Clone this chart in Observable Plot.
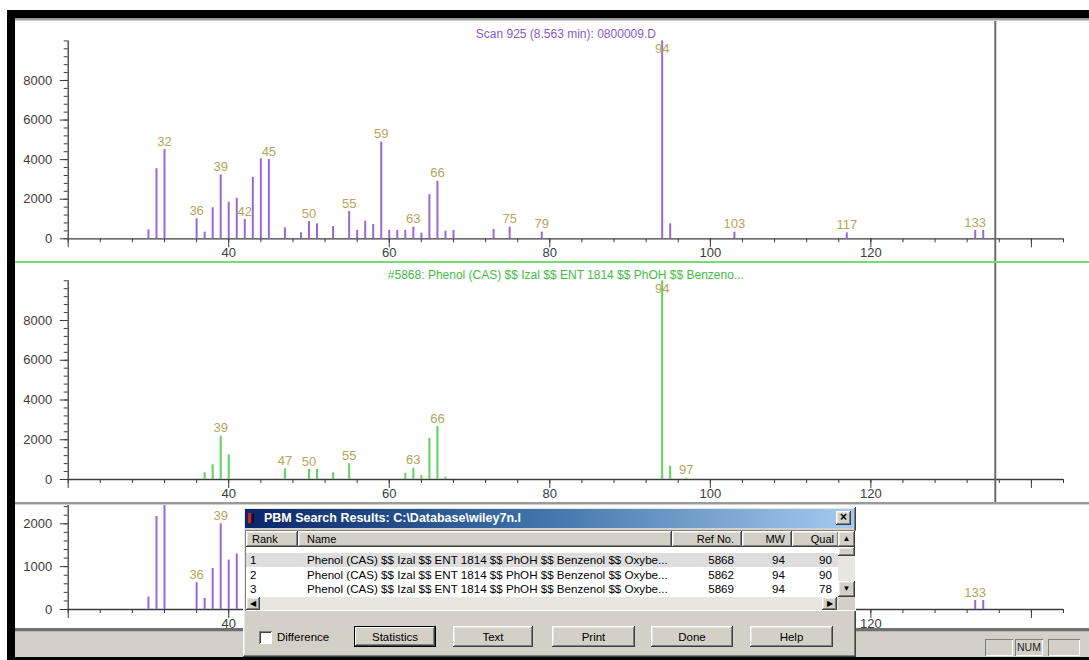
<!DOCTYPE html>
<html><head><meta charset="utf-8">
<script src="https://cdn.jsdelivr.net/npm/d3@7"></script>
<script src="https://cdn.jsdelivr.net/npm/@observablehq/plot@0.6"></script>
<style>
html,body{margin:0;padding:0;}
body{width:1089px;height:660px;overflow:hidden;background:#fff;position:relative;font-family:"Liberation Sans",Arial,sans-serif;}
.abs{position:absolute;box-sizing:border-box;}
.panel{position:absolute;left:15px;width:1074px;overflow:hidden;background:#fff;}
.raised{background:#d4d0c8;box-shadow:inset -1px -1px #404040, inset 1px 1px #fff, inset -2px -2px #808080, inset 2px 2px #e8e6e0;}
.sunken{box-shadow:inset 1px 1px #808080, inset -1px -1px #fff, inset 2px 2px #404040, inset -2px -2px #d4d0c8;}
.btn{position:absolute;top:626px;height:21px;font-size:11.5px;color:#000;display:flex;align-items:center;justify-content:center;}
.hdr{position:absolute;top:0;height:16px;font-size:11px;line-height:16px;color:#000;box-sizing:border-box;}
.row{position:absolute;left:0;width:592px;height:14px;font-size:11.6px;line-height:14px;color:#000;white-space:nowrap;}
.row span{position:absolute;}
.thin{position:absolute;font-size:8px;line-height:1;color:#000;display:flex;align-items:center;justify-content:center;}
</style></head><body>
<div id="p1" class="panel" style="top:21px;height:241px;"></div>
<div class="abs" style="left:15px;top:261px;width:1074px;height:2px;background:#6fe06f;"></div>
<div id="p2" class="panel" style="top:263px;height:240px;"></div>
<div class="abs" style="left:15px;top:502px;width:1074px;height:3px;background:#9a9a9a;border-bottom:1px solid #d0d0d0;"></div>
<div id="p3" class="panel" style="top:505px;height:123px;"></div>
<div class="abs" style="left:15px;top:628px;width:1074px;height:4px;background:#707070;border-bottom:1px solid #b8b8b8;"></div>
<div class="abs" style="left:15px;top:632px;width:1074px;height:25px;background:#d4d0c8;"></div>
<div class="abs sunken" style="left:985px;top:639px;width:28px;height:17px;box-shadow:inset 1px 1px #808080, inset -1px -1px #fff;"></div>
<div class="abs" style="left:1015px;top:639px;width:28px;height:17px;box-shadow:inset 1px 1px #808080, inset -1px -1px #fff;font-size:10.5px;line-height:17px;text-align:center;color:#222;">NUM</div>
<div class="abs" style="left:1048px;top:639px;width:32px;height:17px;box-shadow:inset 1px 1px #808080, inset -1px -1px #fff;"></div>

<!-- dialog -->
<div id="dlg" class="abs raised" style="left:243px;top:507px;width:613px;height:150px;"></div>
<div class="abs" style="left:245px;top:509px;width:609px;height:19px;background:linear-gradient(to right,#0a246a,#3a6ea5 45%,#a6caf0);"></div>
<div class="abs" style="left:248px;top:513px;width:3px;height:10px;background:#d02020;"></div>
<div class="abs" style="left:252px;top:514px;width:2px;height:9px;background:#111;"></div>
<div id="dlgTitle" class="abs" style="left:264px;top:509px;height:19px;line-height:19px;color:#fff;font-weight:bold;font-size:12.5px;white-space:nowrap;"></div>
<div class="abs raised" style="left:836px;top:511px;width:15px;height:14px;font-size:12px;font-weight:bold;line-height:13px;text-align:center;color:#000;">×</div>
<div id="list" class="abs" style="left:245px;top:530px;width:611px;height:81px;background:#fff;box-shadow:inset 1px 1px #808080, inset -1px -1px #fff;overflow:hidden;">
  <div id="hdr" class="abs" style="left:1px;top:1px;width:592px;height:16px;"></div>
  <div id="rows" class="abs" style="left:1px;top:23px;width:592px;height:44px;overflow:hidden;"></div>
  <div class="abs" style="left:593px;top:1px;width:17px;height:66px;background:#e8e6e0;"></div>
  <div class="thin raised" style="left:593px;top:1px;width:17px;height:16px;">▲</div>
  <div class="abs raised" style="left:593px;top:17px;width:17px;height:9px;"></div>
  <div class="thin raised" style="left:593px;top:51px;width:17px;height:16px;">▼</div>
  <div class="abs" style="left:1px;top:67px;width:592px;height:13px;background:#e8e6e0;"></div>
  <div class="thin raised" style="left:1px;top:67px;width:14px;height:13px;">◀</div>
  <div class="thin raised" style="left:577px;top:67px;width:15px;height:13px;">▶</div>
  <div class="abs" style="left:593px;top:67px;width:17px;height:13px;background:#d4d0c8;"></div>
</div>
<div class="abs" style="left:259px;top:631px;width:13px;height:13px;background:#fff;box-shadow:inset 1px 1px #808080, inset -1px -1px #fff, inset 2px 2px #404040;"></div>
<div id="diffLabel" class="abs" style="left:277px;top:629px;height:16px;line-height:16px;font-size:11.5px;color:#000;"></div>
<div id="btns"></div>

<script>
// ---------- data ----------
const scanTitle = "Scan 925 (8.563 min): 0800009.D";
const scanMz    = [30,31,32,36,37,38,39,40,41,42,43,44,45,47,49,50,51,53,55,56,57,58,59,60,61,62,63,64,65,66,67,68,73,75,79,94,95,103,117,133,134];
const scanAbund = [455,3540,4510,1010,333,1570,3230,1850,2050,975,3110,4040,4010,556,303,874,758,621,1380,420,890,722,4880,420,420,420,590,285,2225,2910,385,420,470,590,333,9999,758,333,300,420,420];
const scanLabels = [32,36,39,42,45,50,55,59,63,66,75,79,94,103,117,133];

const libTitle = "#5868: Phenol (CAS) $$ Izal $$ ENT 1814 $$ PhOH $$ Benzeno...";
const libMz    = [37,38,39,40,47,50,51,53,55,62,63,64,65,66,67,94,95,97];
const libAbund = [337,740,2180,1243,538,503,503,337,790,317,569,201,2078,2667,116,9999,669,60];
const libLabels = [39,47,50,55,63,66,94,97];

const zoomMz    = [30,31,32,36,37,38,39,40,41,133,134];
const zoomAbund = [290,2170,2800,626,259,955,2000,1153,1294,210,210];
const zoomLabels = [32,36,39,133];

const cursorMz = 135.5;
const xMinorTicks = d3.range(20, 145, 4);
const xMajorTicks = [20,40,60,80,100,120,140];
const xTickLabels = [40,60,80,100,120];
const yMinorMain = d3.range(0, 10001, 400);
const yMajorMain = [0,2000,4000,6000,8000];
const yMinorZoom = d3.range(0, 2401, 200);
const yMajorZoom = [0,1000,2000];

const dialogTitle = "PBM Search Results: C:\\Database\\wiley7n.l";
const colHeads = ["Rank","Name","Ref No.","MW","Qual"];
const ranks  = ["1","2","3"];
const names  = ["Phenol (CAS) $$ Izal $$ ENT 1814 $$ PhOH $$ Benzenol $$ Oxybe...","Phenol (CAS) $$ Izal $$ ENT 1814 $$ PhOH $$ Benzenol $$ Oxybe...","Phenol (CAS) $$ Izal $$ ENT 1814 $$ PhOH $$ Benzenol $$ Oxybe..."];
const refNos = ["5868","5862","5869"];
const mws    = ["94","94","94"];
const quals  = ["90","90","78"];
const buttons = ["Statistics","Text","Print","Done","Help"];
const checkLabel = "Difference";

// ---------- chart ----------
const purple = "#9a68d6", green = "#5fd35f", labelColor = "#b5a55a", axisColor = "#3c3c3c";

function spectrum(o) {
  const rows = o.mz.map((m, i) => ({mz: m, v: o.ab[i]}));
  const labs = o.labels.map(m => ({mz: m, v: Math.min(rows.find(r => r.mz === m).v, 9200), t: String(m)}));
  const marks = [
    Plot.ruleY([0], {stroke: axisColor, strokeWidth: 1.3}),
    Plot.ruleX([20], {stroke: axisColor, strokeWidth: 1.3}),
    Plot.axisX({ticks: xMinorTicks, tickSize: 4, tickFormat: () => "", color: axisColor, label: null}),
    Plot.axisX({ticks: xMajorTicks, tickSize: 9, tickPadding: 0, tickFormat: d => xTickLabels.includes(d) ? String(d) : "", color: axisColor, label: null}),
    Plot.axisY({ticks: o.yMinor, tickSize: 4, tickFormat: () => "", color: axisColor, label: null}),
    Plot.axisY({ticks: o.yMajor, tickSize: 8, tickPadding: 8, tickFormat: d => String(d), color: axisColor, label: null}),
  ];
  if (o.cursor) marks.push(Plot.ruleX([cursorMz], {stroke: "#6a6a6a", strokeWidth: 2, insetTop: -o.mT, insetBottom: -o.mB}));
  marks.push(Plot.ruleX(rows, {x: "mz", y1: 0, y2: "v", stroke: o.color, strokeWidth: 2}));
  marks.push(Plot.text(labs, {x: "mz", y: "v", text: "t", dy: -8, fill: labelColor, fontSize: 13}));
  if (o.title) marks.push(Plot.text([o.title], {frameAnchor: "top", lineAnchor: "middle", text: d => d, dy: o.titleDy, fill: o.titleColor, fontSize: 12}));
  return Plot.plot({
    width: 1074, height: o.h,
    marginLeft: 52.7, marginRight: 26, marginTop: o.mT, marginBottom: o.mB,
    x: {domain: [20, 144], axis: null, label: null},
    y: {domain: o.yDomain, axis: null, label: null},
    style: {fontFamily: "Liberation Sans, Arial, sans-serif", fontSize: "13px", background: "#fff"},
    marks
  });
}

document.getElementById("p1").append(spectrum({mz: scanMz, ab: scanAbund, labels: scanLabels, color: purple,
  title: scanTitle, titleColor: "#8a5ad0", titleDy: -7, yDomain: [0, 10000], yMinor: yMinorMain, yMajor: yMajorMain,
  cursor: true, h: 241, mT: 19.4, mB: 23.7}));
document.getElementById("p2").append(spectrum({mz: libMz, ab: libAbund, labels: libLabels, color: green,
  title: libTitle, titleColor: "#45bd45", titleDy: -6, yDomain: [0, 10000], yMinor: yMinorMain, yMajor: yMajorMain,
  cursor: true, h: 240, mT: 17.25, mB: 24}));
document.getElementById("p3").append(spectrum({mz: zoomMz, ab: zoomAbund, labels: zoomLabels, color: purple,
  title: null, yDomain: [0, 2427], yMinor: yMinorZoom, yMajor: yMajorZoom,
  cursor: false, h: 123, mT: 0, mB: 19}));

// ---------- dialog ----------
document.getElementById("dlgTitle").textContent = dialogTitle;
document.getElementById("diffLabel").textContent = checkLabel;
const hdr = document.getElementById("hdr");
const cols = [[0,52,"left",6],[52,374,"left",9],[426,70,"right",8],[496,50,"right",7],[546,47,"right",5]];
cols.forEach(([l,w,al,pad], i) => {
  const d = document.createElement("div");
  d.className = "hdr raised";
  d.style.left = l + "px"; d.style.width = w + "px"; d.style.textAlign = al;
  d.style[al === "left" ? "paddingLeft" : "paddingRight"] = pad + "px";
  d.textContent = colHeads[i];
  hdr.append(d);
});
const rowsEl = document.getElementById("rows");
ranks.forEach((r, i) => {
  const d = document.createElement("div");
  d.className = "row";
  d.style.top = (i * 14.7) + "px";
  if (i === 0) d.style.background = "#dedede";
  const cells = [[r, 4, "left"],[names[i], 61, "left"],[refNos[i], 488, "right"],[mws[i], 539, "right"],[quals[i], 586, "right"]];
  cells.forEach(([t, x, al]) => {
    const s = document.createElement("span");
    s.textContent = t;
    if (al === "left") s.style.left = x + "px"; else s.style.right = (592 - x) + "px";
    d.append(s);
  });
  rowsEl.append(d);
});
const btnPos = [[354,82],[453,80],[552,83],[651,82],[750,83]];
const btnEl = document.getElementById("btns");
buttons.forEach((b, i) => {
  const d = document.createElement("div");
  d.className = "btn raised";
  d.style.left = btnPos[i][0] + "px"; d.style.width = btnPos[i][1] + "px";
  if (i === 0) d.style.boxShadow = "inset 0 0 0 1px #000, inset -2px -2px #404040, inset 2px 2px #fff, inset -3px -3px #808080";
  d.textContent = b;
  btnEl.append(d);
});
</script>

<!-- frame -->
<div class="abs" style="left:7px;top:10px;width:8px;height:650px;background:#000;"></div>
<div class="abs" style="left:7px;top:10px;width:1082px;height:8px;background:#000;"></div>
<div class="abs" style="left:15px;top:18px;width:1074px;height:3px;background:#9a9a9a;border-bottom:1px solid #cfcfcf;"></div>
<div class="abs" style="left:7px;top:657px;width:1082px;height:3px;background:#000;"></div>
</body></html>
